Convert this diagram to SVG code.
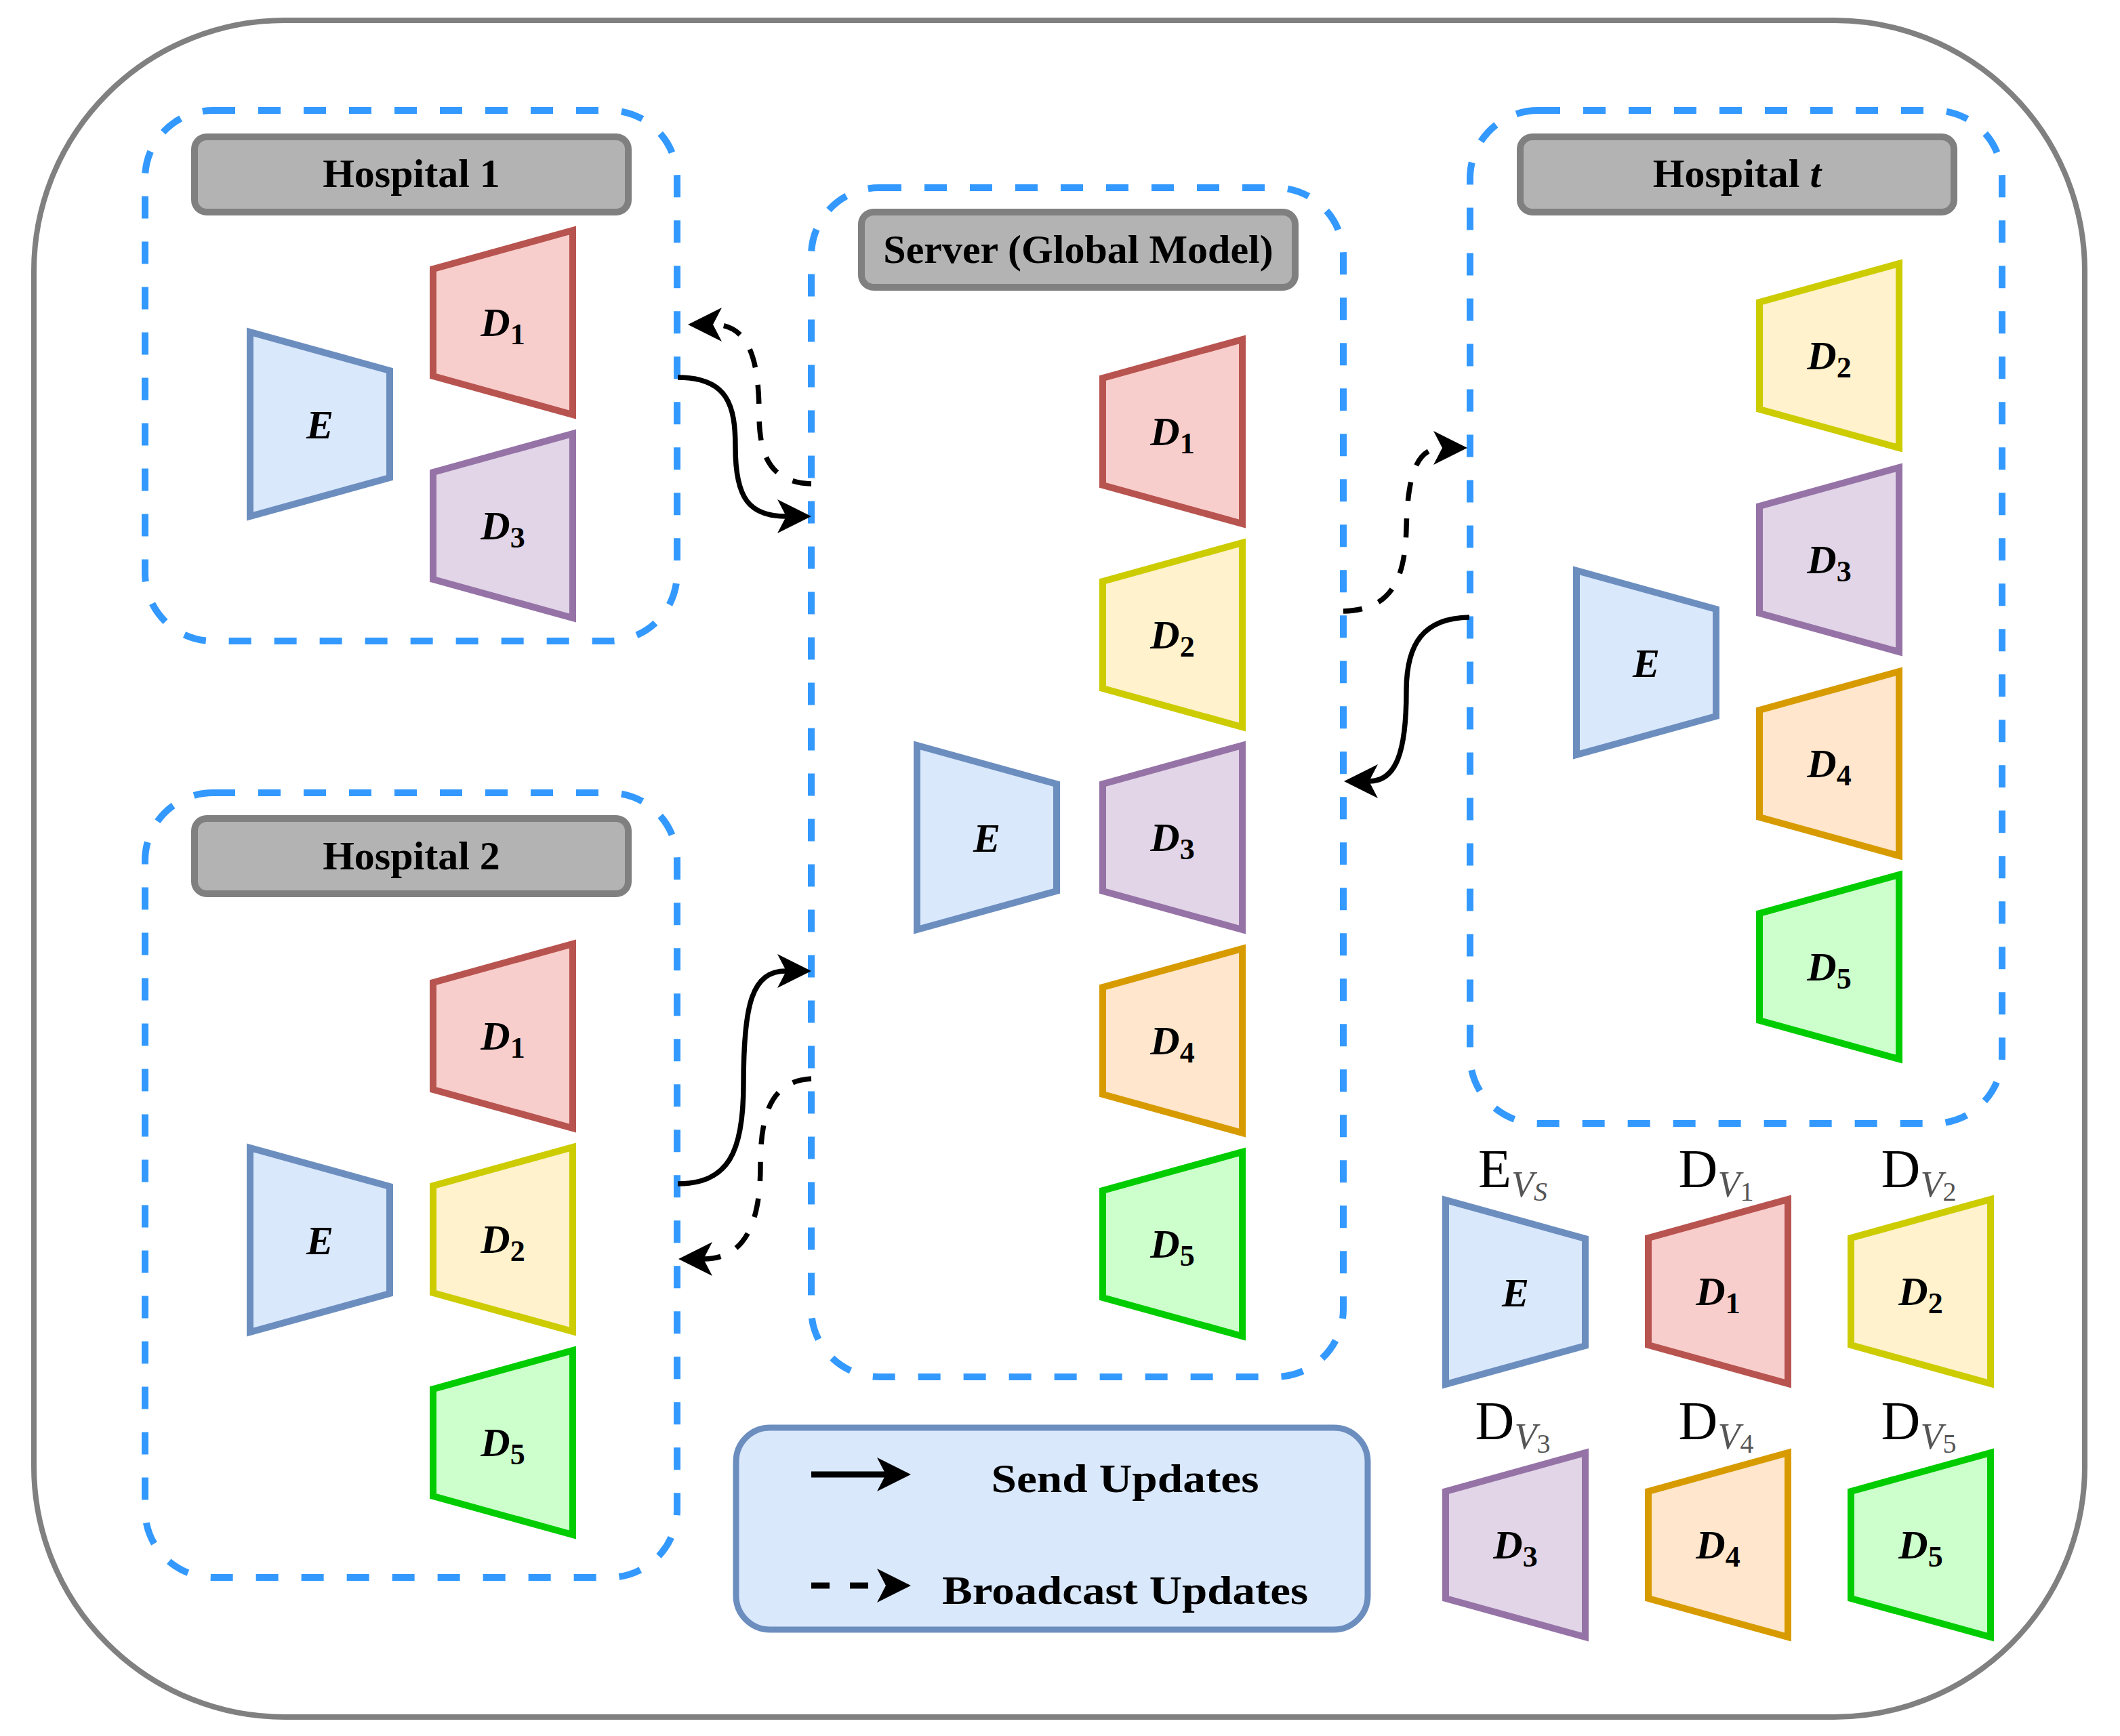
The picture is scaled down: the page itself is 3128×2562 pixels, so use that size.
<svg xmlns="http://www.w3.org/2000/svg" width="3128" height="2562" viewBox="0 0 3128 2562">
<style>
.lbl{font-family:"Liberation Serif","Times New Roman",serif;font-weight:bold;font-size:60px;fill:#000;text-anchor:middle}
.sym{font-family:"Liberation Serif","Times New Roman",serif;font-weight:bold;font-style:italic;font-size:60px;fill:#000;text-anchor:middle}
.sub{font-style:normal;font-size:44px}
.cap{font-family:"Liberation Serif","Times New Roman",serif;font-size:80px;fill:#000;text-anchor:middle}
.capsub{font-style:italic;font-size:54px;fill:#555}
.capsub2{font-size:40px;fill:#555}
.grp{fill:none;stroke:#3399FF;stroke-width:10;stroke-dasharray:33 34}
.title{fill:#B3B3B3;stroke:#808080;stroke-width:10}
.enc{fill:#DAE8FC;stroke:#6C8EBF;stroke-width:10}
.d1{fill:#F8CECC;stroke:#B85450;stroke-width:10}
.d2{fill:#FFF2CC;stroke:#CCCC00;stroke-width:10}
.d3{fill:#E1D5E7;stroke:#9673A6;stroke-width:10}
.d4{fill:#FFE6CC;stroke:#D79B00;stroke-width:10}
.d5{fill:#CCFFCC;stroke:#00CC00;stroke-width:10}
.send{fill:none;stroke:#000;stroke-width:7.5;marker-end:url(#ah)}
.bcast{fill:none;stroke:#000;stroke-width:7.5;stroke-dasharray:28 26;marker-end:url(#ah)}
</style>
<defs>
<polygon id="encShape" points="0,0 206,57 206,215 0,272"/>
<polygon id="decShape" points="0,57 206,0 206,272 0,215"/>
<marker id="ah" markerUnits="userSpaceOnUse" markerWidth="60" markerHeight="60" viewBox="-15 -30 60 60" refX="0" refY="0" orient="auto">
<path d="M37,0 L-13,-25 L0,0 L-13,25 Z" fill="#000"/>
</marker>
</defs>
<rect width="3128" height="2562" fill="#fff"/>
<rect id="frame" x="50" y="30" width="3026" height="2504" rx="370" fill="none" stroke="#808080" stroke-width="8"/>

<g id="hospital1">
<rect class="grp" x="214" y="163" width="785" height="783" rx="100"/>
<rect class="title" x="287" y="202" width="640" height="111" rx="18"/>
<text class="lbl" x="607" y="276">Hospital 1</text>
<g id="h1-E"><use href="#encShape" x="369" y="490" class="enc"/><text class="sym" x="472" y="647">E</text></g>
<g id="h1-D1"><use href="#decShape" x="639" y="340" class="d1"/><text class="sym" x="742" y="496">D<tspan class="sub" dy="12">1</tspan></text></g>
<g id="h1-D3"><use href="#decShape" x="639" y="640" class="d3"/><text class="sym" x="742" y="796">D<tspan class="sub" dy="12">3</tspan></text></g>
</g>

<g id="hospital2">
<rect class="grp" x="214" y="1170" width="785" height="1158" rx="100"/>
<rect class="title" x="287" y="1208" width="640" height="111" rx="18"/>
<text class="lbl" x="607" y="1283">Hospital 2</text>
<g id="h2-E"><use href="#encShape" x="369" y="1694" class="enc"/><text class="sym" x="472" y="1851">E</text></g>
<g id="h2-D1"><use href="#decShape" x="639" y="1393" class="d1"/><text class="sym" x="742" y="1549">D<tspan class="sub" dy="12">1</tspan></text></g>
<g id="h2-D2"><use href="#decShape" x="639" y="1693" class="d2"/><text class="sym" x="742" y="1849">D<tspan class="sub" dy="12">2</tspan></text></g>
<g id="h2-D5"><use href="#decShape" x="639" y="1993" class="d5"/><text class="sym" x="742" y="2149">D<tspan class="sub" dy="12">5</tspan></text></g>
</g>

<g id="server">
<rect class="grp" x="1197" y="277" width="785" height="1755" rx="100"/>
<rect class="title" x="1271" y="313" width="640" height="111" rx="18"/>
<text class="lbl" x="1591" y="388">Server (Global Model)</text>
<g id="s-E"><use href="#encShape" x="1353" y="1100" class="enc"/><text class="sym" x="1456" y="1257">E</text></g>
<g id="s-D1"><use href="#decShape" x="1627" y="501" class="d1"/><text class="sym" x="1730" y="657">D<tspan class="sub" dy="12">1</tspan></text></g>
<g id="s-D2"><use href="#decShape" x="1627" y="801" class="d2"/><text class="sym" x="1730" y="957">D<tspan class="sub" dy="12">2</tspan></text></g>
<g id="s-D3"><use href="#decShape" x="1627" y="1100" class="d3"/><text class="sym" x="1730" y="1256">D<tspan class="sub" dy="12">3</tspan></text></g>
<g id="s-D4"><use href="#decShape" x="1627" y="1400" class="d4"/><text class="sym" x="1730" y="1556">D<tspan class="sub" dy="12">4</tspan></text></g>
<g id="s-D5"><use href="#decShape" x="1627" y="1700" class="d5"/><text class="sym" x="1730" y="1856">D<tspan class="sub" dy="12">5</tspan></text></g>
</g>

<g id="hospitalt">
<rect class="grp" x="2169" y="163" width="785" height="1495" rx="100"/>
<rect class="title" x="2243" y="202" width="640" height="111" rx="18"/>
<text class="lbl" x="2563" y="276">Hospital <tspan font-style="italic">t</tspan></text>
<g id="ht-E"><use href="#encShape" x="2326" y="842" class="enc"/><text class="sym" x="2429" y="999">E</text></g>
<g id="ht-D2"><use href="#decShape" x="2596" y="389" class="d2"/><text class="sym" x="2699" y="545">D<tspan class="sub" dy="12">2</tspan></text></g>
<g id="ht-D3"><use href="#decShape" x="2596" y="690" class="d3"/><text class="sym" x="2699" y="846">D<tspan class="sub" dy="12">3</tspan></text></g>
<g id="ht-D4"><use href="#decShape" x="2596" y="991" class="d4"/><text class="sym" x="2699" y="1147">D<tspan class="sub" dy="12">4</tspan></text></g>
<g id="ht-D5"><use href="#decShape" x="2596" y="1291" class="d5"/><text class="sym" x="2699" y="1447">D<tspan class="sub" dy="12">5</tspan></text></g>
</g>

<g id="connectors">
<path class="send" d="M1000,557 C1075,557 1085,600 1085,660 C1085,735 1105,762 1160,762"/>
<path class="bcast" d="M1197,714 C1135,712 1120,670 1120,610 C1120,520 1100,479 1052,479"/>
<path class="send" d="M1000,1747 C1075,1747 1097,1700 1097,1600 C1097,1480 1110,1433 1160,1433"/>
<path class="bcast" d="M1197,1592 C1140,1595 1122,1640 1122,1720 C1122,1820 1090,1858 1038,1858"/>
<path class="bcast" d="M1982,902 C2050,900 2073,860 2075,780 C2077,700 2090,661 2128,661"/>
<path class="send" d="M2168,911 C2100,912 2075,950 2075,1020 C2075,1110 2060,1153 2020,1153"/>
</g>

<g id="legend">
<rect x="1086" y="2107" width="932" height="298" rx="50" fill="#DAE8FC" stroke="#6C8EBF" stroke-width="9"/>
<path d="M1197,2176 L1307,2176" fill="none" stroke="#000" stroke-width="9" marker-end="url(#ah)"/>
<text class="lbl" x="1660" y="2202" textLength="395" lengthAdjust="spacingAndGlyphs">Send Updates</text>
<path d="M1197,2340 L1307,2340" fill="none" stroke="#000" stroke-width="9" stroke-dasharray="27 30" marker-end="url(#ah)"/>
<text class="lbl" x="1660" y="2367" textLength="540" lengthAdjust="spacingAndGlyphs">Broadcast Updates</text>
</g>

<g id="key">
<g id="key-E"><text class="cap" x="2232" y="1752">E<tspan class="capsub" dy="14">V</tspan><tspan class="capsub2" dy="6" font-style="italic">S</tspan></text><use href="#encShape" x="2133" y="1771" class="enc"/><text class="sym" x="2236" y="1928">E</text></g>
<g id="key-D1"><text class="cap" x="2532" y="1752">D<tspan class="capsub" dy="14">V</tspan><tspan class="capsub2" dy="6">1</tspan></text><use href="#decShape" x="2432" y="1770" class="d1"/><text class="sym" x="2535" y="1926">D<tspan class="sub" dy="12">1</tspan></text></g>
<g id="key-D2"><text class="cap" x="2831" y="1752">D<tspan class="capsub" dy="14">V</tspan><tspan class="capsub2" dy="6">2</tspan></text><use href="#decShape" x="2731" y="1770" class="d2"/><text class="sym" x="2834" y="1926">D<tspan class="sub" dy="12">2</tspan></text></g>
<g id="key-D3"><text class="cap" x="2232" y="2124">D<tspan class="capsub" dy="14">V</tspan><tspan class="capsub2" dy="6">3</tspan></text><use href="#decShape" x="2133" y="2144" class="d3"/><text class="sym" x="2236" y="2300">D<tspan class="sub" dy="12">3</tspan></text></g>
<g id="key-D4"><text class="cap" x="2532" y="2124">D<tspan class="capsub" dy="14">V</tspan><tspan class="capsub2" dy="6">4</tspan></text><use href="#decShape" x="2432" y="2144" class="d4"/><text class="sym" x="2535" y="2300">D<tspan class="sub" dy="12">4</tspan></text></g>
<g id="key-D5"><text class="cap" x="2831" y="2124">D<tspan class="capsub" dy="14">V</tspan><tspan class="capsub2" dy="6">5</tspan></text><use href="#decShape" x="2731" y="2144" class="d5"/><text class="sym" x="2834" y="2300">D<tspan class="sub" dy="12">5</tspan></text></g>
</g>
</svg>
